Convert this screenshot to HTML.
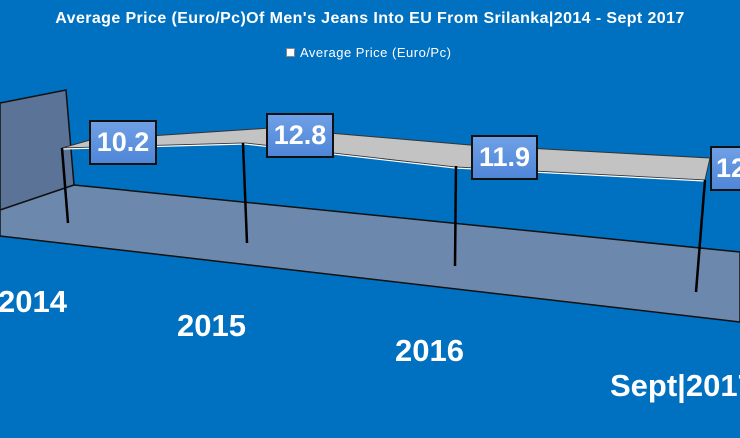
<!DOCTYPE html>
<html><head><style>
body{margin:0;width:740px;height:438px;background:#0070c0;overflow:hidden;position:relative;font-family:"Liberation Sans",Arial,sans-serif;}
.t{position:absolute;color:#fff;font-weight:bold;white-space:nowrap}
.lb{position:absolute;background:linear-gradient(#6fa0e6,#4f86d8);border:2px solid #111;color:#fff;font-weight:bold;font-size:27px;text-align:center;line-height:40px;box-sizing:border-box}
</style></head><body>
<div class="t" style="left:0;width:740px;text-align:center;top:10px;font-size:16px;letter-spacing:0.4px">Average Price (Euro/Pc)Of Men's Jeans Into EU From Srilanka|2014 - Sept 2017</div>
<div class="t" style="left:286px;top:45px;font-size:13px;font-weight:normal;letter-spacing:0.5px"><span style="display:inline-block;width:7px;height:7px;background:#fff;border:1px solid #888;margin-right:5px"></span>Average Price (Euro/Pc)</div>
<svg width="740" height="438" style="position:absolute;left:0;top:0">
<polygon points="0,103 66,90 74,185 0,210" fill="#5a7396" stroke="#111" stroke-width="1.5"/>
<polygon points="0,210 74,185 740,252 740,322 0,236" fill="#6c88ad" stroke="#111" stroke-width="1.5"/>
<polygon points="62,148 90,140 270,128 470,145 710,158 705,180 455,167 245,143" fill="#c3c3c3" stroke="#333" stroke-width="1"/>
<polyline points="62,149 245,144 455,168 705,181" fill="none" stroke="#fff" stroke-width="1.2"/>
<g stroke="#000" stroke-width="2.5">
<line x1="62" y1="148" x2="68" y2="223"/>
<line x1="243" y1="143" x2="247" y2="243"/>
<line x1="456" y1="166" x2="455" y2="266"/>
<line x1="705" y1="180" x2="696" y2="292"/>
</g>
</svg>
<div class="lb" style="left:89px;top:120px;width:68px;height:45px">10.2</div>
<div class="lb" style="left:266px;top:113px;width:68px;height:45px">12.8</div>
<div class="lb" style="left:471px;top:135px;width:67px;height:45px">11.9</div>
<div class="lb" style="left:710px;top:146px;width:68px;height:45px;text-align:left;padding-left:4px">12.0</div>
<div class="t" style="left:-2px;top:284px;font-size:31px">2014</div>
<div class="t" style="left:177px;top:308px;font-size:31px">2015</div>
<div class="t" style="left:395px;top:333px;font-size:31px">2016</div>
<div class="t" style="left:610px;top:368px;font-size:31px">Sept|2017</div>
</body></html>
